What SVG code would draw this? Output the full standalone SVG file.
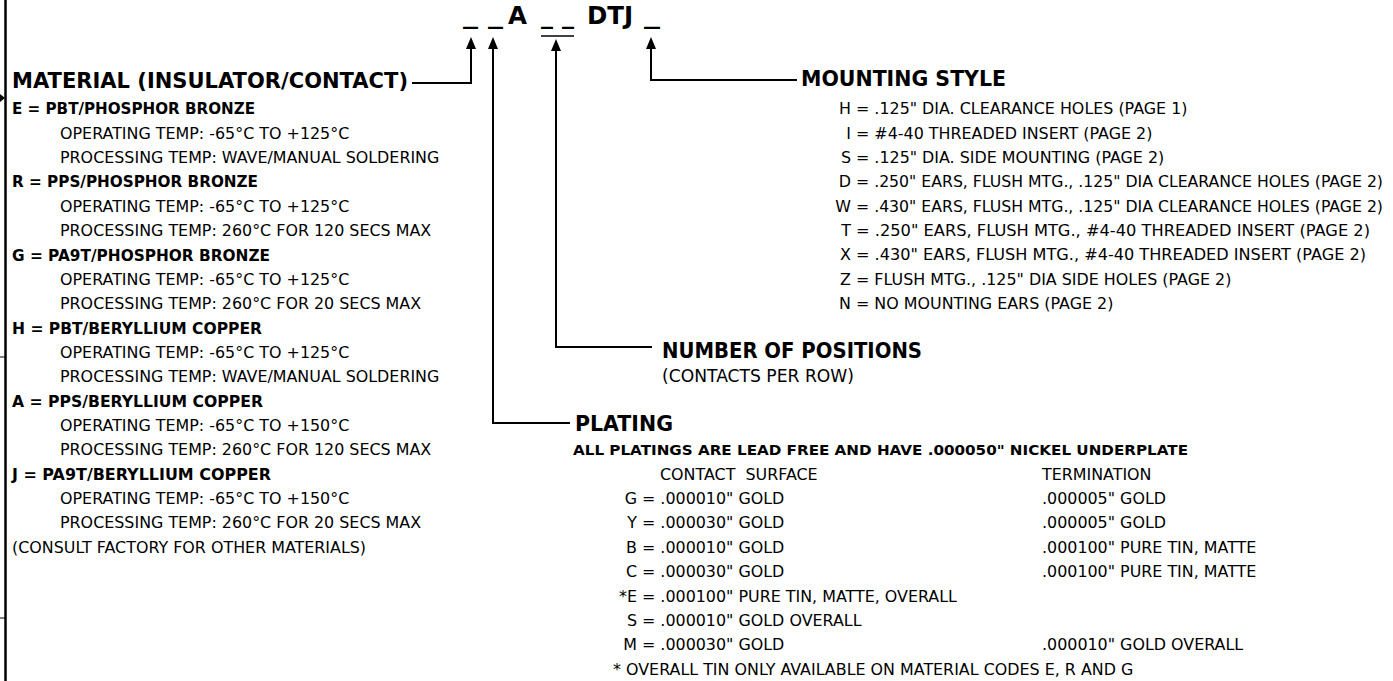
<svg xmlns="http://www.w3.org/2000/svg" width="1393" height="681" viewBox="0 0 1393 681">
<defs>
<style>
text{font-family:"DejaVu Sans","Liberation Sans",sans-serif;fill:#000}
.r{font-size:15.9px}
.b{font-size:16.5px;font-weight:bold}
.h{font-size:20.5px;font-weight:bold}
.t{font-size:24.5px;font-weight:bold}
.e{text-anchor:end}
.ln{stroke:#000;stroke-width:2;fill:none}
</style>
<marker id="ah" viewBox="0 0 12 10" refX="8" refY="5" markerWidth="12" markerHeight="10" markerUnits="userSpaceOnUse" orient="auto-start-reverse">
<path d="M0,0 L12,5 L0,10 Z" fill="#000"/>
</marker>
</defs>
<rect width="1393" height="681" fill="#fff"/>
<g id="frame">
<line x1="5.5" y1="0" x2="5.5" y2="681" stroke="#000" stroke-width="2.5"/>
<path d="M0,94 L5,98 L0,102 Z" fill="#000"/>
<line x1="0" y1="357" x2="5" y2="357" stroke="#000" stroke-width="1"/>
<line x1="0" y1="618" x2="5" y2="618" stroke="#000" stroke-width="1"/>
</g>
<g id="title">
<text class="t" x="463" y="23" textLength="15" lengthAdjust="spacingAndGlyphs">_</text>
<text class="t" x="488" y="23" textLength="15" lengthAdjust="spacingAndGlyphs">_</text>
<text class="t" x="508" y="24">A</text>
<text class="t" x="541" y="23" textLength="12" lengthAdjust="spacingAndGlyphs">_</text>
<text class="t" x="562" y="23" textLength="12" lengthAdjust="spacingAndGlyphs">_</text>
<text class="t" x="587" y="24">DTJ</text>
<text class="t" x="644" y="23" textLength="16" lengthAdjust="spacingAndGlyphs">_</text>
<line x1="541" y1="36" x2="574" y2="36" stroke="#000" stroke-width="1.5"/>
</g>
<g id="connectors">
<path class="ln" d="M471,41 V83 H412" marker-start="url(#ah)"/>
<path class="ln" d="M493,41 V423 H570" marker-start="url(#ah)"/>
<path class="ln" d="M556,43 V347 H652" marker-start="url(#ah)"/>
<path class="ln" d="M651,41 V80 H797" marker-start="url(#ah)"/>
</g>
<g id="material">
<text class="h" x="12" y="88" textLength="396" lengthAdjust="spacingAndGlyphs">MATERIAL (INSULATOR/CONTACT)</text>
<text class="b" x="12" y="114.3" textLength="243" lengthAdjust="spacingAndGlyphs">E = PBT/PHOSPHOR BRONZE</text>
<text class="r" x="60" y="138.5">OPERATING TEMP: -65°C TO +125°C</text>
<text class="r" x="60" y="162.8">PROCESSING TEMP: WAVE/MANUAL SOLDERING</text>
<text class="b" x="12" y="187.4" textLength="246" lengthAdjust="spacingAndGlyphs">R = PPS/PHOSPHOR BRONZE</text>
<text class="r" x="60" y="211.6">OPERATING TEMP: -65°C TO +125°C</text>
<text class="r" x="60" y="236">PROCESSING TEMP: 260°C FOR 120 SECS MAX</text>
<text class="b" x="12" y="260.5" textLength="258" lengthAdjust="spacingAndGlyphs">G = PA9T/PHOSPHOR BRONZE</text>
<text class="r" x="60" y="284.7">OPERATING TEMP: -65°C TO +125°C</text>
<text class="r" x="60" y="309.1">PROCESSING TEMP: 260°C FOR 20 SECS MAX</text>
<text class="b" x="12" y="333.6" textLength="250" lengthAdjust="spacingAndGlyphs">H = PBT/BERYLLIUM COPPER</text>
<text class="r" x="60" y="357.8">OPERATING TEMP: -65°C TO +125°C</text>
<text class="r" x="60" y="382.2">PROCESSING TEMP: WAVE/MANUAL SOLDERING</text>
<text class="b" x="12" y="406.7" textLength="251" lengthAdjust="spacingAndGlyphs">A = PPS/BERYLLIUM COPPER</text>
<text class="r" x="60" y="430.9">OPERATING TEMP: -65°C TO +150°C</text>
<text class="r" x="60" y="455.3">PROCESSING TEMP: 260°C FOR 120 SECS MAX</text>
<text class="b" x="12" y="479.9" textLength="259" lengthAdjust="spacingAndGlyphs">J = PA9T/BERYLLIUM COPPER</text>
<text class="r" x="60" y="504">OPERATING TEMP: -65°C TO +150°C</text>
<text class="r" x="60" y="528.4">PROCESSING TEMP: 260°C FOR 20 SECS MAX</text>
<text class="r" x="12" y="552.8">(CONSULT FACTORY FOR OTHER MATERIALS)</text>
</g>
<g id="mounting">
<text class="h" x="801" y="86">MOUNTING STYLE</text>
<text class="r e" x="851" y="114.1">H</text><text class="r" x="856" y="114.1">= .125" DIA. CLEARANCE HOLES (PAGE 1)</text>
<text class="r e" x="851" y="138.5">I</text><text class="r" x="856" y="138.5">= #4-40 THREADED INSERT (PAGE 2)</text>
<text class="r e" x="851" y="162.8">S</text><text class="r" x="856" y="162.8">= .125" DIA. SIDE MOUNTING (PAGE 2)</text>
<text class="r e" x="851" y="187.2">D</text><text class="r" x="856" y="187.2" textLength="527" lengthAdjust="spacingAndGlyphs">= .250" EARS, FLUSH MTG., .125" DIA CLEARANCE HOLES (PAGE 2)</text>
<text class="r e" x="851" y="211.6">W</text><text class="r" x="856" y="211.6" textLength="527" lengthAdjust="spacingAndGlyphs">= .430" EARS, FLUSH MTG., .125" DIA CLEARANCE HOLES (PAGE 2)</text>
<text class="r e" x="851" y="236">T</text><text class="r" x="856" y="236" textLength="514" lengthAdjust="spacingAndGlyphs">= .250" EARS, FLUSH MTG., #4-40 THREADED INSERT (PAGE 2)</text>
<text class="r e" x="851" y="260.3">X</text><text class="r" x="856" y="260.3" textLength="510" lengthAdjust="spacingAndGlyphs">= .430" EARS, FLUSH MTG., #4-40 THREADED INSERT (PAGE 2)</text>
<text class="r e" x="851" y="284.7">Z</text><text class="r" x="856" y="284.7">= FLUSH MTG., .125" DIA SIDE HOLES (PAGE 2)</text>
<text class="r e" x="851" y="309.1">N</text><text class="r" x="856" y="309.1">= NO MOUNTING EARS (PAGE 2)</text>
</g>
<g id="positions">
<text class="h" x="662" y="358" textLength="260" lengthAdjust="spacingAndGlyphs">NUMBER OF POSITIONS</text>
<text x="662" y="381.5" style="font-size:17.5px" textLength="192" lengthAdjust="spacingAndGlyphs">(CONTACTS PER ROW)</text>
</g>
<g id="plating">
<text class="h" x="575" y="430.5">PLATING</text>
<text x="573" y="455.3" style="font-size:14.5px;font-weight:bold" textLength="615" lengthAdjust="spacingAndGlyphs">ALL PLATINGS ARE LEAD FREE AND HAVE .000050" NICKEL UNDERPLATE</text>
<text class="r" x="660" y="479.7" xml:space="preserve">CONTACT  SURFACE</text>
<text class="r" x="1042" y="479.7">TERMINATION</text>
<text class="r e" x="637" y="504">G</text><text class="r" x="642" y="504">= .000010" GOLD</text>
<text class="r" x="1042" y="504">.000005" GOLD</text>
<text class="r e" x="637" y="528.4">Y</text><text class="r" x="642" y="528.4">= .000030" GOLD</text>
<text class="r" x="1042" y="528.4">.000005" GOLD</text>
<text class="r e" x="637" y="552.8">B</text><text class="r" x="642" y="552.8">= .000010" GOLD</text>
<text class="r" x="1042" y="552.8">.000100" PURE TIN, MATTE</text>
<text class="r e" x="637" y="577.2">C</text><text class="r" x="642" y="577.2">= .000030" GOLD</text>
<text class="r" x="1042" y="577.2">.000100" PURE TIN, MATTE</text>
<text class="r e" x="637" y="601.6">*E</text><text class="r" x="642" y="601.6">= .000100" PURE TIN, MATTE, OVERALL</text>
<text class="r e" x="637" y="626">S</text><text class="r" x="642" y="626">= .000010" GOLD OVERALL</text>
<text class="r e" x="637" y="650.3">M</text><text class="r" x="642" y="650.3">= .000030" GOLD</text>
<text class="r" x="1042" y="650.3">.000010" GOLD OVERALL</text>
<text class="r" x="613" y="674.7">* OVERALL TIN ONLY AVAILABLE ON MATERIAL CODES E, R AND G</text>
</g>
</svg>
